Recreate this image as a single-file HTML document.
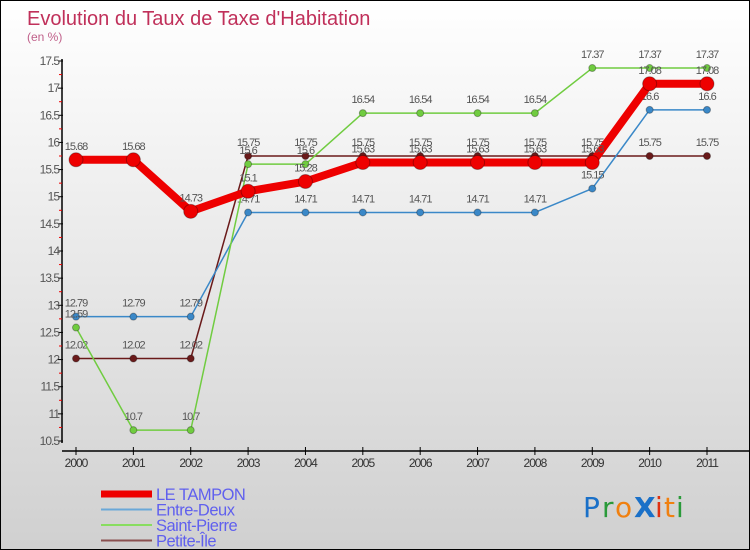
<!DOCTYPE html>
<html><head><meta charset="utf-8"><style>
body{margin:0}
#c{position:relative;width:748px;height:548px;border:1px solid #000;background:linear-gradient(#fff,#d0d0d0);font-family:"Liberation Sans",sans-serif;overflow:hidden}
</style></head><body>
<div id="c">
<svg id="s" width="748" height="548" xmlns="http://www.w3.org/2000/svg">
<text x="26" y="24" font-size="20" fill="#c0305a">Evolution du Taux de Taxe d'Habitation</text>
<text x="26" y="40" font-size="12" fill="#c0608a">(en %)</text>
<g id="g"></g>
<g font-size="28" font-family="'DejaVu Sans',sans-serif">
<text x="582" y="516" fill="#1a70c8">P</text><text x="601" y="516" fill="#2a9a3a">r</text><text x="614" y="516" fill="#f08010">o</text><text x="633" y="516" fill="#1a70c8" font-weight="bold">X</text><text x="654" y="516" fill="#e03010">i</text><text x="663" y="516" fill="#f08010">t</text><text x="675" y="516" fill="#2a9a3a">i</text>
</g>
</svg>
</div>
<script>
const years=['2000','2001','2002','2003','2004','2005','2006','2007','2008','2009','2010','2011'];
const tampon=[15.68,15.68,14.73,15.1,15.28,15.63,15.63,15.63,15.63,15.63,17.08,17.08];
const entreDeux=[12.79,12.79,12.79,14.71,14.71,14.71,14.71,14.71,14.71,15.15,16.6,16.6];
const saintPierre=[12.59,10.7,10.7,15.6,15.6,16.54,16.54,16.54,16.54,17.37,17.37,17.37];
const petiteIle=[12.02,12.02,12.02,15.75,15.75,15.75,15.75,15.75,15.75,15.75,15.75,15.75];
const yTicks=[10.5,11,11.5,12,12.5,13,13.5,14,14.5,15,15.5,16,16.5,17,17.5];
const NS='http://www.w3.org/2000/svg';
const g=document.getElementById('g');
const X=i=>75+i*(706-75)/11;
const Y=v=>440-(v-10.5)*(380/7);
function mk(t,a){const e=document.createElementNS(NS,t);for(const k in a)e.setAttribute(k,a[k]);g.appendChild(e);return e;}
let e;
e=mk('line',{x1:61,y1:58,x2:61,y2:442,stroke:'#000','stroke-width':1.5});


e=mk('line',{x1:61,y1:450,x2:748,y2:450,stroke:'#000','stroke-width':1.5});


yTicks.forEach((v,i)=>{
  mk('line',{x1:57,y1:Y(v),x2:62,y2:Y(v),stroke:'#000'});
  if(i<yTicks.length-1)mk('line',{x1:58,y1:Y(v+0.25),x2:61,y2:Y(v+0.25),stroke:'#e00'});
  e=mk('text',{x:58,y:Y(v)+4,'font-size':12,'text-anchor':'end',fill:'#555','letter-spacing':'-1'});
  e.textContent=v;
  
  
});
years.forEach((y,i)=>{
  mk('line',{x1:X(i),y1:446,x2:X(i),y2:454,stroke:'#000'});
  e=mk('text',{x:X(i),y:466,'font-size':12,'text-anchor':'middle',fill:'#333','letter-spacing':'-1'});
  e.textContent=y;
  
  
});
function series(d,col,w,r,name){
  e=mk('polyline',{points:d.map((v,i)=>X(i)+','+Y(v)).join(' '),fill:'none',stroke:col,'stroke-width':w,'stroke-linejoin':'round'});
  
  
  d.forEach((v,i)=>{
    e=mk('circle',{cx:X(i),cy:Y(v),r:r,fill:col,stroke:'rgba(0,0,0,0.3)'});
    
    
    e=mk('text',{x:X(i),y:Y(v)-10,'font-size':11,'text-anchor':'middle',fill:'#555','letter-spacing':'-1'});
    e.textContent=v;
    
    
  });
}
series(petiteIle,'#6a1a1a',1.5,3.5,'petite-ile');
series(entreDeux,'#3a88c8',1.5,3.5,'entre-deux');
series(saintPierre,'#70cc40',1.5,3.5,'saint-pierre');
series(tampon,'#ee0000',8,7,'le-tampon');
const leg=[['LE TAMPON','#ee0000',7],['Entre-Deux','#6aa8d8',2],['Saint-Pierre','#88dd60',2],['Petite-Île','#8a5050',2]];
leg.forEach((l,i)=>{
  const yy=493+i*15.5;
  e=mk('line',{x1:100,y1:yy,x2:151,y2:yy,stroke:l[1],'stroke-width':l[2]});
  
  
  e=mk('text',{x:155,y:yy+6,'font-size':16.5,fill:'#6060ee','letter-spacing':'-0.5'});
  e.textContent=l[0];
  
  
});
</script>
</body></html>
